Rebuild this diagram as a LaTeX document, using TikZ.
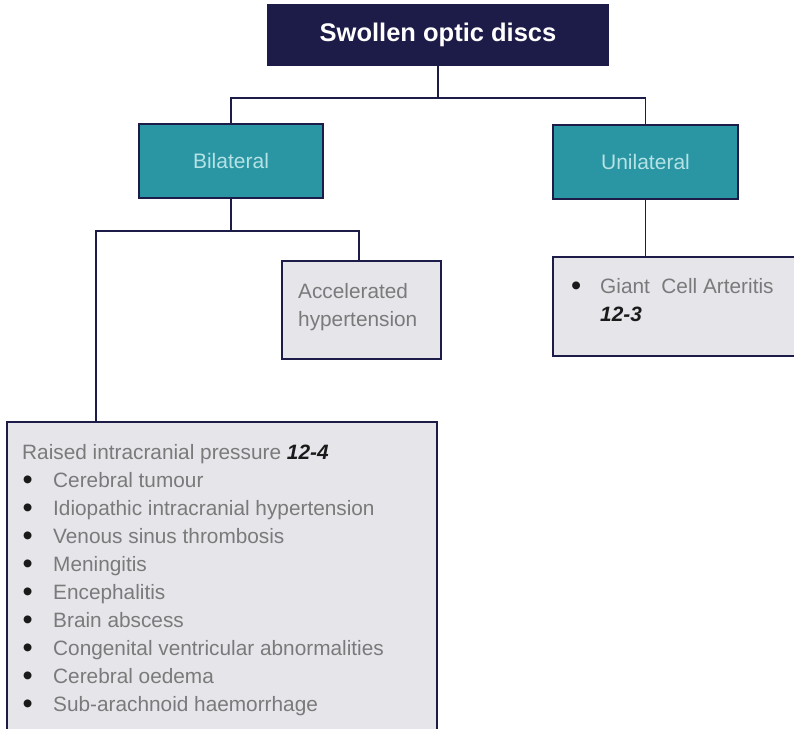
\documentclass[tikz,border=0pt]{standalone}
\usepackage{fontspec}
\setmainfont{Liberation Sans}
\usetikzlibrary{calc}
\definecolor{navy}{HTML}{1D1B47}
\definecolor{teal2}{HTML}{2A95A3}
\definecolor{boxgrey}{HTML}{E6E5EA}
\definecolor{lightteal}{HTML}{B5E2E5}
\definecolor{txtgrey}{HTML}{7A7A7A}
\definecolor{numblack}{HTML}{1A1A1A}
\newcommand{\refnum}[1]{{\color{numblack}\bfseries\itshape #1}}
\newcommand{\bigbul}{\raisebox{-2.5pt}{\fontsize{29}{28}\selectfont\color{numblack}\textbullet}}
\newcommand{\bul}{\makebox[31pt][l]{\hspace{0.5pt}\bigbul}}
\tikzset{
  titlebox/.style={rectangle, draw=navy, fill=navy, line width=2pt, text=white,
    font=\fontsize{25.5}{30}\selectfont\bfseries, minimum width=340pt, minimum height=60pt, inner sep=0pt},
  tealbox/.style={rectangle, draw=navy, fill=teal2, line width=2pt, text=lightteal,
    font=\fontsize{21}{25}\selectfont, minimum height=74pt, inner sep=0pt},
  greybox/.style={rectangle, draw=navy, fill=boxgrey, line width=2pt, inner sep=0pt},
  boxtext/.style={inner sep=0pt, anchor=base west, text=txtgrey, font=\fontsize{20.8}{28}\selectfont},
  link/.style={draw=navy, line width=1.6pt}
}
\begin{document}
\begin{tikzpicture}[x=1pt,y=-1pt]
\useasboundingbox (0,0) rectangle (794,728);
\clip (0,0) rectangle (794,728);
% boxes
\node[titlebox] (top) at (438,35) {Swollen optic discs};
\node[tealbox, minimum width=184pt] (bil) at (231,161) {Bilateral};
\node[tealbox, minimum width=185pt] (uni) at (645.5,162) {Unilateral};
\node[greybox, minimum width=159pt, minimum height=98pt] (acc) at (361.5,310) {};
\node[greybox, minimum width=257pt, minimum height=99pt] (giant) at (681.5,306.5) {};
\node[greybox, minimum width=430pt, minimum height=328pt] (big) at (222,586) {};
% connectors
\draw[link] (top.south) -- ++(0,32) -| (bil.north);
\draw[link] (top.south) -- ++(0,32) -| (uni.north);
\draw[link] (bil.south) -- ++(0,32) -| ($(acc.north)+(-2.5,0)$);
\coordinate (bigin) at ($(big.north west)+(90,0)$);
\draw[link] (bil.south) -- ++(0,32) -| (bigin);
\draw[link] (uni.south) -- (uni.south |- giant.north);
% texts
\node[boxtext] (acctext) at (298,298) {\begin{tabular}[t]{@{}l@{}}Accelerated\\hypertension\end{tabular}};
\node[boxtext] (gianttext) at (571,293) {\begin{tabular}[t]{@{}l@{}}\makebox[29pt][l]{\bigbul}Giant\ \ Cell Arteritis\\\hspace{29pt}\refnum{12-3}\end{tabular}};
\node[boxtext] (bigtext) at (22,459) {\begin{tabular}[t]{@{}l@{}}
Raised intracranial pressure \refnum{12-4}\\
\bul Cerebral tumour\\
\bul Idiopathic intracranial hypertension\\
\bul Venous sinus thrombosis\\
\bul Meningitis\\
\bul Encephalitis\\
\bul Brain abscess\\
\bul Congenital ventricular abnormalities\\
\bul Cerebral oedema\\
\bul Sub-arachnoid haemorrhage
\end{tabular}};
\end{tikzpicture}
\end{document}
